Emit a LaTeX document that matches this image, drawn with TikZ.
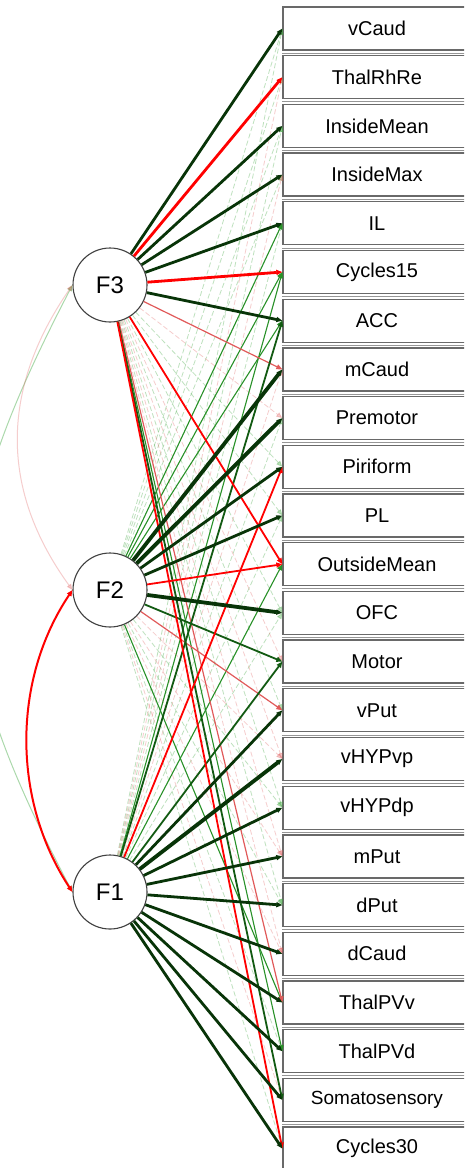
\documentclass[tikz,border=0pt]{standalone}
\usepackage{fontspec}
\setmainfont{Liberation Sans}
\usetikzlibrary{arrows.meta}
\definecolor{dg}{RGB}{8,52,8}
\definecolor{mg}{RGB}{18,90,18}
\definecolor{lg}{RGB}{40,145,40}
\definecolor{fg}{RGB}{70,170,70}
\definecolor{fr}{RGB}{225,90,90}
\definecolor{boxgray}{RGB}{105,105,105}
\begin{document}
\begin{tikzpicture}[x=1pt,y=-1pt,
  obs/.style={draw=boxgray,line width=1.3pt,fill=white,minimum width=188pt,minimum height=43pt,inner sep=0pt,font=\fontsize{20}{22}\selectfont},
  lat/.style={circle,draw=black!75,line width=1.1pt,fill=white,minimum size=74pt,inner sep=0pt,font=\fontsize{24}{26}\selectfont},
  boxshadow/.style={draw=boxgray!70,line width=1pt},
  tip/.style={-{Triangle[length=6pt,width=5pt]}},
  ezg/.style={tip,draw=fg,opacity=.35,line width=.8pt,dash pattern=on 5pt off 2.5pt},
  ezr/.style={tip,draw=fr,opacity=.3,line width=.8pt,dash pattern=on 5pt off 2.5pt},
  e1g/.style={tip,draw=lg,line width=1.1pt},
  e1r/.style={tip,draw=fr,line width=1.2pt},
  e2g/.style={tip,draw=mg,line width=1.8pt},
  e2r/.style={tip,draw=red,line width=1.8pt},
  e3g/.style={tip,draw=dg,line width=2.8pt},
  e3r/.style={tip,draw=red,line width=2.8pt},
  e4g/.style={tip,draw=dg,line width=3.8pt},
  covred/.style={{Triangle[length=6pt,width=5pt]}-{Triangle[length=6pt,width=5pt]},draw=red,line width=2pt},
  covfr/.style={{Triangle[length=6pt,width=5pt]}-{Triangle[length=6pt,width=5pt]},draw=fr,opacity=.3,line width=1pt},
  covfg/.style={{Triangle[length=6pt,width=5pt]}-{Triangle[length=6pt,width=5pt]},draw=fg,opacity=.45,line width=1pt}
]
\useasboundingbox (0,0) rectangle (464,1168);
\fill[white] (0,0) rectangle (464,1168);
\clip (0,0) rectangle (464,1168);

% observed variables
\foreach \n [count=\i from 0] in {vCaud,ThalRhRe,InsideMean,InsideMax,IL,Cycles15,ACC,mCaud,Premotor,Piriform,PL,OutsideMean,OFC,Motor,vPut,vHYPvp,vHYPdp,mPut,dPut,dCaud,ThalPVv,ThalPVd,{\fontsize{19}{20}\selectfont Somatosensory},Cycles30}{
  \node[obs] (b\i) at (377,28.5+48.7*\i) {\n};
  \draw[boxshadow] ([yshift=-2.6pt]b\i.south west) -- ([yshift=-2.6pt]b\i.south east);
}

% latent variables
\node[lat] (F3) at (110,285) {F3};
\node[lat] (F2) at (110,590) {F2};
\node[lat] (F1) at (110,892) {F1};

% faint loadings
\foreach \f/\t in {3/9,3/10,3/12,3/14,3/16,3/18,
                   2/0,2/1,2/2,2/3,2/16,2/18,2/21,2/23,
                   1/0,1/2,1/4,1/8,1/10,1/12}
  \draw[ezg] (F\f) -- (b\t.west);
\foreach \f/\t in {3/8,3/13,3/15,3/17,3/19,
                   2/15,2/17,2/19,2/22,
                   1/1,1/3,1/7}
  \draw[ezr] (F\f) -- (b\t.west);

% thin loadings
\foreach \f/\t in {3/21,2/4,2/5,2/6,2/20,1/5,1/11}
  \draw[e1g] (F\f) -- (b\t.west);
\foreach \f/\t in {3/7,3/20,2/14}
  \draw[e1r] (F\f) -- (b\t.west);

% medium loadings
\foreach \f/\t in {3/22,2/13,1/6,1/13}
  \draw[e2g] (F\f) -- (b\t.west);
\foreach \f/\t in {3/11,3/23,2/11,1/9}
  \draw[e2r] (F\f) -- (b\t.west);

% strong loadings
\foreach \f/\t in {3/0,3/2,3/3,3/4,3/6,2/9,2/10,
                   1/14,1/16,1/17,1/18,1/19,1/20,1/21,1/22,1/23}
  \draw[e3g] (F\f) -- (b\t.west);
\foreach \f/\t in {3/1,3/5}
  \draw[e3r] (F\f) -- (b\t.west);
\foreach \f/\t in {2/7,2/8,2/12,1/15}
  \draw[e4g] (F\f) -- (b\t.west);

% covariances
\draw[covfg] (F3.west) .. controls (-60,540) and (-60,640) .. (F1.west);
\draw[covfr] (F3.west) .. controls (0,390) and (0,490) .. (F2.west);
\draw[covred] (F1.west) .. controls (12,800) and (12,680) .. (F2.west);
\end{tikzpicture}
\end{document}
